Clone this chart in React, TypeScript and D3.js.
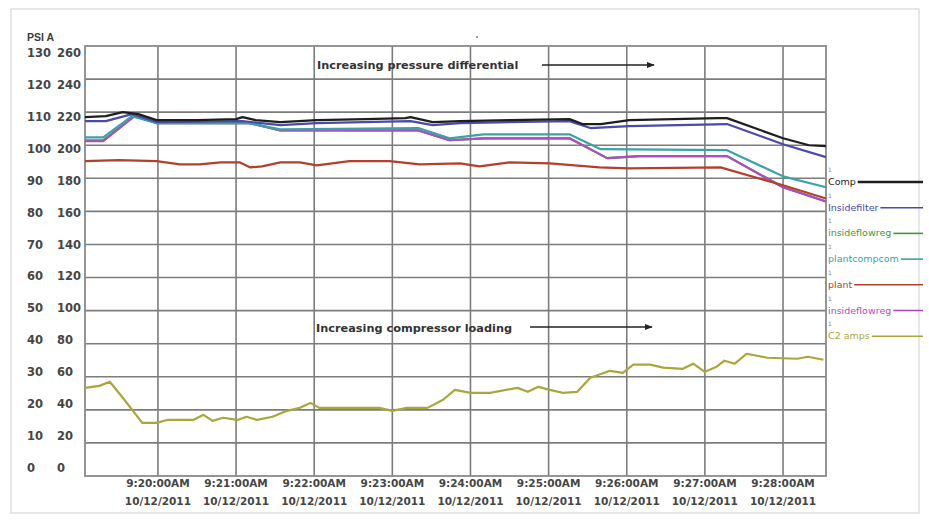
import React, { useEffect, useRef } from "react";
import * as d3 from "d3";

const W = 929;
const H = 523;

const domainTimes = ["9:19:04", "9:28:33"];
const tickTimes = ["9:20:00", "9:21:00", "9:22:00", "9:23:00", "9:24:00", "9:25:00", "9:26:00", "9:27:00", "9:28:00"];
const tickLabels = ["9:20:00AM", "9:21:00AM", "9:22:00AM", "9:23:00AM", "9:24:00AM", "9:25:00AM", "9:26:00AM", "9:27:00AM", "9:28:00AM"];
const tickDate = "10/12/2011";
const leftTicks = [0, 10, 20, 30, 40, 50, 60, 70, 80, 90, 100, 110, 120, 130];
const rightTicks = [0, 20, 40, 60, 80, 100, 120, 140, 160, 180, 200, 220, 240, 260];
const leftTitle = "PSI A";
const note1 = "Increasing pressure differential";
const note2 = "Increasing compressor loading";

const legendNames = ["Comp", "Insidefilter", "insideflowreg", "plantcompcom", "plant", "insideflowreg", "C2 amps"];
const legendColors = ["#1e1e1e", "#4a4aa8", "#3c9a3c", "#3aa3aa", "#b3402e", "#b04cc2", "#a8a83a"];

// PSI A series (left axis)
const comp: [string, number][] = [
  ["9:19:04", 108.5], ["9:19:20", 108.8], ["9:19:33", 110.0], ["9:19:45", 109.4], ["9:19:59", 107.6],
  ["9:20:30", 107.6], ["9:21:00", 107.9], ["9:21:05", 108.5], ["9:21:15", 107.6], ["9:21:34", 107.0],
  ["9:22:02", 107.6], ["9:22:40", 107.9], ["9:23:10", 108.2], ["9:23:14", 108.5], ["9:23:31", 107.0],
  ["9:23:52", 107.3], ["9:24:30", 107.6], ["9:25:16", 107.9], ["9:25:26", 106.4], ["9:25:40", 106.4],
  ["9:26:02", 107.6], ["9:27:10", 108.2], ["9:27:17", 108.2], ["9:28:00", 102.1], ["9:28:20", 100.0],
  ["9:28:33", 99.7],
];
const insideFilter: [string, number][] = [
  ["9:19:04", 107.3], ["9:19:20", 107.3], ["9:19:40", 109.4], ["9:19:59", 107.0], ["9:21:05", 107.3],
  ["9:21:34", 106.1], ["9:22:02", 106.7], ["9:23:14", 107.3], ["9:23:31", 106.1], ["9:23:52", 106.7],
  ["9:25:16", 107.3], ["9:25:32", 105.2], ["9:26:02", 105.8], ["9:27:17", 106.4], ["9:28:00", 100.3],
  ["9:28:33", 96.4],
];
const insideFlowRegA: [string, number][] = [
  ["9:19:04", 101.5], ["9:19:18", 101.5], ["9:19:42", 108.8], ["9:19:59", 106.7], ["9:21:10", 106.7],
  ["9:21:34", 104.5], ["9:23:20", 104.5], ["9:23:44", 101.5], ["9:24:10", 102.1], ["9:25:16", 102.1],
  ["9:25:45", 96.1], ["9:26:10", 96.7], ["9:27:17", 96.7], ["9:28:00", 87.3], ["9:28:33", 83.0],
];
const plantCompCom: [string, number][] = [
  ["9:19:04", 102.4], ["9:19:18", 102.4], ["9:19:40", 108.8], ["9:19:59", 106.7], ["9:21:10", 106.7],
  ["9:21:34", 104.8], ["9:23:20", 105.2], ["9:23:44", 102.1], ["9:24:10", 103.3], ["9:25:16", 103.3],
  ["9:25:40", 98.8], ["9:27:17", 98.5], ["9:28:00", 90.6], ["9:28:33", 87.3],
];
const plant: [string, number][] = [
  ["9:19:04", 95.2], ["9:19:30", 95.5], ["9:19:59", 95.2], ["9:20:17", 94.2], ["9:20:32", 94.2],
  ["9:20:48", 94.8], ["9:21:03", 94.8], ["9:21:11", 93.3], ["9:21:20", 93.6], ["9:21:34", 94.8],
  ["9:21:49", 94.8], ["9:22:02", 93.9], ["9:22:27", 95.2], ["9:22:58", 95.2], ["9:23:21", 94.2],
  ["9:23:52", 94.5], ["9:24:07", 93.6], ["9:24:30", 94.8], ["9:25:01", 94.5], ["9:25:39", 93.3],
  ["9:26:02", 93.0], ["9:27:12", 93.3], ["9:28:00", 87.9], ["9:28:33", 83.9],
];
const insideFlowRegB: [string, number][] = [
  ["9:19:04", 101.2], ["9:19:18", 101.2], ["9:19:42", 108.8], ["9:19:59", 106.7], ["9:21:10", 106.7],
  ["9:21:34", 104.5], ["9:23:20", 104.5], ["9:23:44", 101.5], ["9:24:10", 102.1], ["9:25:16", 102.1],
  ["9:25:45", 96.1], ["9:26:10", 96.7], ["9:27:17", 96.7], ["9:28:00", 87.3], ["9:28:33", 83.0],
];
// amps series (right axis)
const c2Amps: [string, number][] = [
  ["9:19:04", 53.3], ["9:19:15", 54.5], ["9:19:23", 57.0], ["9:19:33", 47.3], ["9:19:48", 32.1],
  ["9:19:59", 32.1], ["9:20:07", 33.9], ["9:20:27", 33.9], ["9:20:35", 37.0], ["9:20:42", 33.3],
  ["9:20:50", 35.2], ["9:21:01", 33.9], ["9:21:08", 35.8], ["9:21:16", 33.9], ["9:21:28", 35.8],
  ["9:21:39", 39.4], ["9:21:49", 41.2], ["9:21:57", 44.2], ["9:22:04", 41.2], ["9:22:20", 41.2],
  ["9:22:50", 41.2], ["9:23:00", 39.4], ["9:23:11", 41.2], ["9:23:27", 41.2], ["9:23:39", 46.1],
  ["9:23:48", 52.1], ["9:24:00", 50.3], ["9:24:15", 50.3], ["9:24:36", 53.3], ["9:24:44", 50.9],
  ["9:24:52", 53.9], ["9:25:01", 52.1], ["9:25:11", 50.3], ["9:25:22", 50.9], ["9:25:32", 59.4],
  ["9:25:47", 63.6], ["9:25:57", 62.4], ["9:26:05", 67.3], ["9:26:18", 67.3], ["9:26:28", 65.5],
  ["9:26:43", 64.8], ["9:26:51", 67.9], ["9:27:00", 63.0], ["9:27:09", 66.1], ["9:27:15", 69.7],
  ["9:27:23", 67.9], ["9:27:32", 73.9], ["9:27:48", 71.5], ["9:28:11", 70.9], ["9:28:19", 72.1],
  ["9:28:31", 70.3],
];

const parseT = (s: string) => {
  const [h, m, sec] = s.split(":").map(Number);
  return new Date(2011, 9, 12, h, m, sec);
};

export default function App() {
  const ref = useRef<SVGSVGElement | null>(null);

  useEffect(() => {
    const svg = d3.select(ref.current);
    svg.selectAll("*").remove();

    const plotL = 85, plotR = 826, plotT = 46, plotB = 476;
    const x = d3.scaleTime().domain(domainTimes.map(parseT)).range([plotL, plotR]);
    const yL = d3.scaleLinear().domain([0, 130]).range([plotB, plotT]);
    const yR = d3.scaleLinear().domain([0, 260]).range([plotB, plotT]);
    const labelY = d3.scaleLinear().domain([0, 130]).range([468, 53]);
    const labelYR = d3.scaleLinear().domain([0, 260]).range([468, 53]);

    svg.append("rect").attr("x", 0).attr("y", 0).attr("width", W).attr("height", H).attr("fill", "#fff");
    svg.append("rect").attr("x", 11).attr("y", 9).attr("width", 908).attr("height", 504)
      .attr("fill", "none").attr("stroke", "#cfcfcf").attr("stroke-width", 1);

    const grid = svg.append("g").attr("stroke", "#7c7c7c").attr("stroke-width", 1.6);
    grid.selectAll("line.h").data(leftTicks.slice(1, -1)).join("line")
      .attr("x1", plotL).attr("x2", plotR).attr("y1", (d) => yL(d)).attr("y2", (d) => yL(d));
    grid.selectAll("line.v").data(tickTimes).join("line")
      .attr("y1", plotT).attr("y2", plotB).attr("x1", (d) => x(parseT(d))).attr("x2", (d) => x(parseT(d)));
    svg.append("rect").attr("x", plotL).attr("y", plotT).attr("width", plotR - plotL).attr("height", plotB - plotT)
      .attr("fill", "none").attr("stroke", "#8a8a8a").attr("stroke-width", 1.8);

    // left labels
    const axisFont = "'DejaVu Sans', sans-serif";
    svg.append("text").attr("x", 27).attr("y", 41).text(leftTitle)
      .attr("font-family", "'Liberation Sans', Arial, sans-serif").attr("font-weight", "bold")
      .attr("font-size", 10.5).attr("fill", "#3c3c3c");
    svg.selectAll("text.yl").data(leftTicks).join("text")
      .attr("x", 27).attr("y", (d) => labelY(d) + 4).text((d) => String(d))
      .attr("font-family", axisFont).attr("font-weight", "bold").attr("font-size", 11.5).attr("fill", "#454545");
    svg.selectAll("text.yr").data(rightTicks).join("text")
      .attr("x", 57).attr("y", (d) => labelYR(d) + 4).text((d) => String(d))
      .attr("font-family", axisFont).attr("font-weight", "bold").attr("font-size", 11.5).attr("fill", "#454545");

    // x labels
    const xl = svg.append("g").attr("font-family", axisFont).attr("font-weight", "bold")
      .attr("font-size", 10.5).attr("fill", "#454545").attr("text-anchor", "middle");
    tickTimes.forEach((t, i) => {
      xl.append("text").attr("x", x(parseT(t))).attr("y", 487).text(tickLabels[i]);
      xl.append("text").attr("x", x(parseT(t))).attr("y", 505).text(tickDate);
    });

    // series
    const lineL = d3.line<[string, number]>().x((d) => x(parseT(d[0]))).y((d) => yL(d[1]));
    const lineR = d3.line<[string, number]>().x((d) => x(parseT(d[0]))).y((d) => yR(d[1]));
    const drawOrder: { data: [string, number][]; color: string; right?: boolean }[] = [
      { data: c2Amps, color: legendColors[6], right: true },
      { data: insideFlowRegA, color: legendColors[2] },
      { data: insideFlowRegB, color: legendColors[5] },
      { data: plant, color: legendColors[4] },
      { data: plantCompCom, color: legendColors[3] },
      { data: insideFilter, color: legendColors[1] },
      { data: comp, color: legendColors[0] },
    ];
    drawOrder.forEach((s) => {
      svg.append("path").attr("d", (s.right ? lineR : lineL)(s.data)).attr("fill", "none")
        .attr("stroke", s.color).attr("stroke-width", 2.2).attr("stroke-linejoin", "round");
    });

    // annotations
    const defs = svg.append("defs");
    defs.append("marker").attr("id", "arr").attr("viewBox", "0 0 10 10").attr("refX", 9).attr("refY", 5)
      .attr("markerWidth", 5).attr("markerHeight", 5).attr("orient", "auto")
      .append("path").attr("d", "M0,1 L10,5 L0,9 Z").attr("fill", "#222");
    const annFont = "'DejaVu Sans', sans-serif";
    svg.append("text").attr("x", 317).attr("y", 69).text(note1).attr("font-family", annFont)
      .attr("font-weight", "bold").attr("font-size", 11.3).attr("fill", "#333");
    svg.append("line").attr("x1", 542).attr("x2", 654).attr("y1", 65).attr("y2", 65)
      .attr("stroke", "#222").attr("stroke-width", 1.6).attr("marker-end", "url(#arr)");
    svg.append("text").attr("x", 316).attr("y", 332).text(note2).attr("font-family", annFont)
      .attr("font-weight", "bold").attr("font-size", 11.3).attr("fill", "#333");
    svg.append("line").attr("x1", 530).attr("x2", 652).attr("y1", 327).attr("y2", 327)
      .attr("stroke", "#222").attr("stroke-width", 1.6).attr("marker-end", "url(#arr)");
    svg.append("circle").attr("cx", 477).attr("cy", 37).attr("r", 1).attr("fill", "#777");

    // legend
    const lg = svg.append("g");
    legendNames.forEach((name, i) => {
      const cy = 182 + i * 25.7;
      lg.append("text").attr("x", 828).attr("y", cy - 10).text("1")
        .attr("font-family", "'DejaVu Sans', sans-serif").attr("font-size", 6).attr("fill", "#888");
      const t = lg.append("text").attr("x", 828).attr("y", cy + 3).text(name)
        .attr("font-family", "'DejaVu Sans', sans-serif").attr("font-size", 9.5).attr("fill", legendColors[i]);
      const w = (t.node() as SVGTextElement).getComputedTextLength();
      lg.append("line").attr("x1", 828 + w + 2).attr("x2", 923).attr("y1", cy).attr("y2", cy)
        .attr("stroke", legendColors[i]).attr("stroke-width", i === 0 ? 2.5 : 1.6);
    });
  }, []);

  return (
    <svg ref={ref} width={W} height={H} style={{ position: "absolute", left: 0, top: 0, display: "block" }} />
  );
}
